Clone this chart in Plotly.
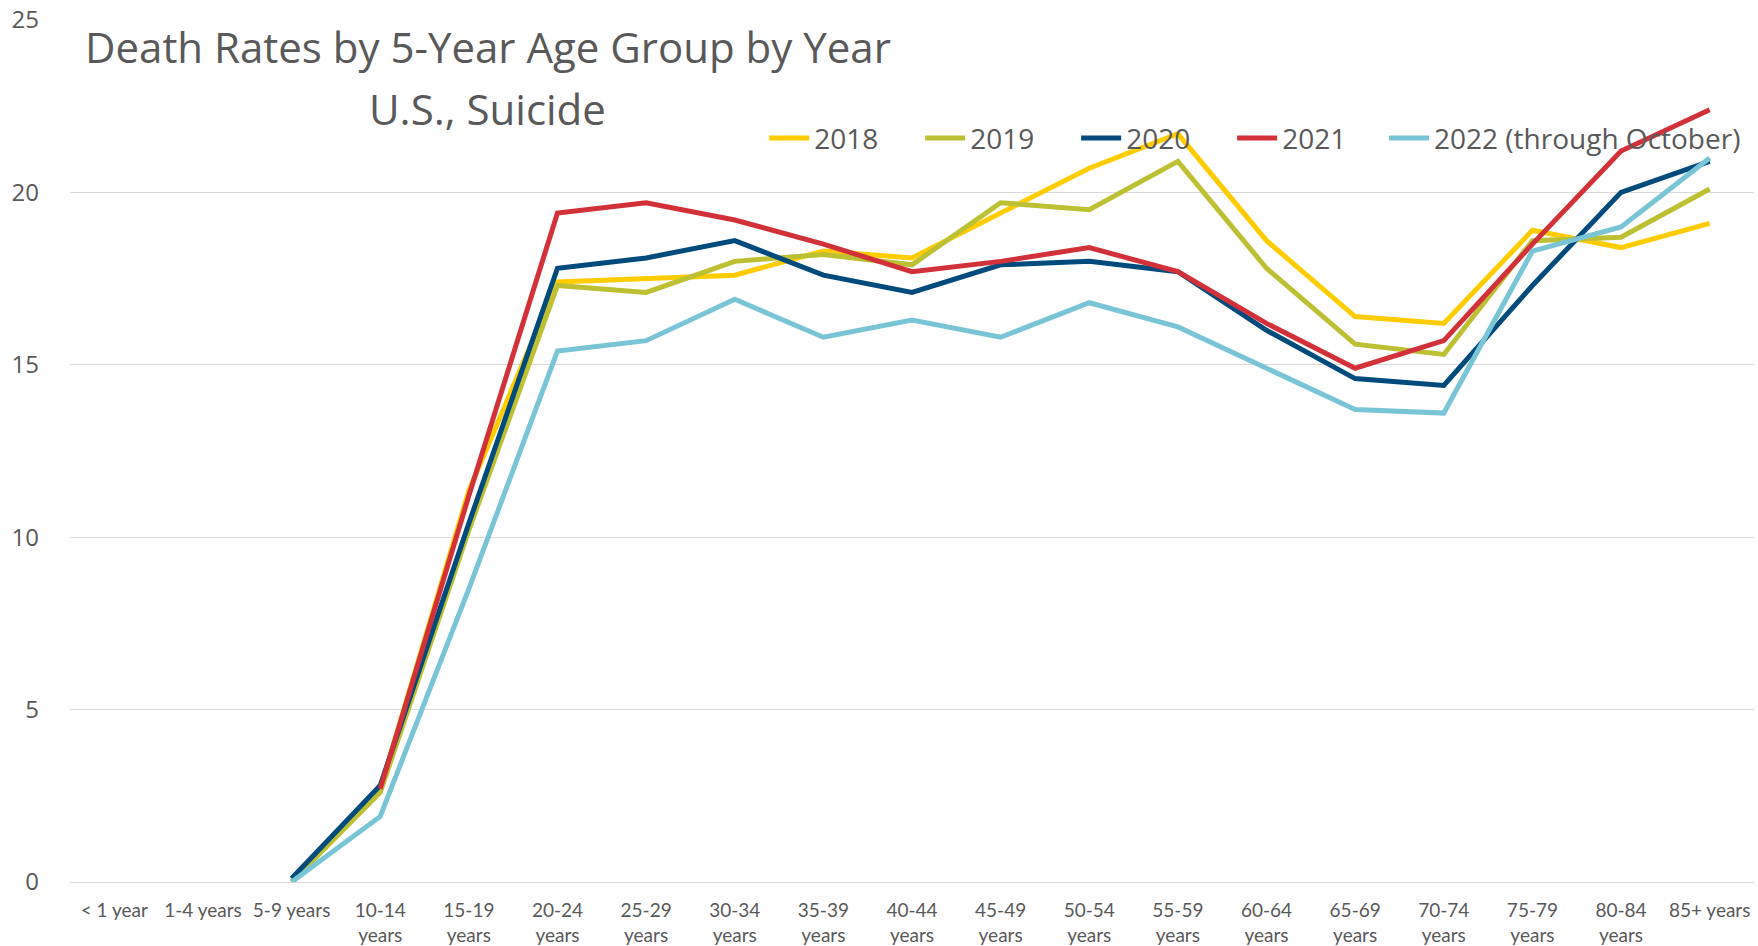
import plotly.graph_objects as go

# Age groups (x categories) and their tick labels
age_groups = ["< 1 year", "1-4 years", "5-9 years", "10-14 years", "15-19 years",
              "20-24 years", "25-29 years", "30-34 years", "35-39 years", "40-44 years",
              "45-49 years", "50-54 years", "55-59 years", "60-64 years", "65-69 years",
              "70-74 years", "75-79 years", "80-84 years", "85+ years"]
tick_labels = ["< 1 year", "1-4 years", "5-9 years", "10-14<br>years", "15-19<br>years",
               "20-24<br>years", "25-29<br>years", "30-34<br>years", "35-39<br>years",
               "40-44<br>years", "45-49<br>years", "50-54<br>years", "55-59<br>years",
               "60-64<br>years", "65-69<br>years", "70-74<br>years", "75-79<br>years",
               "80-84<br>years", "85+ years"]

# Suicide death rates per 100,000 by year
rates_2018 = [None, None, None, 2.7, 11.35, 17.4, 17.5, 17.6, 18.3, 18.1,
              19.4, 20.7, 21.7, 18.6, 16.4, 16.2, 18.9, 18.4, 19.1]
rates_2019 = [None, None, 0.0, 2.6, 10.2, 17.3, 17.1, 18.0, 18.2, 17.9,
              19.7, 19.5, 20.9, 17.8, 15.6, 15.3, 18.6, 18.7, 20.1]
rates_2020 = [None, None, 0.1, 2.8, 10.4, 17.8, 18.1, 18.6, 17.6, 17.1,
              17.9, 18.0, 17.7, 16.0, 14.6, 14.4, 17.3, 20.0, 20.9]
rates_2021 = [None, None, None, 2.7, 11.2, 19.4, 19.7, 19.2, 18.5, 17.7,
              18.0, 18.4, 17.7, 16.2, 14.9, 15.7, 18.5, 21.2, 22.4]
rates_2022 = [None, None, 0.0, 1.9, 8.5, 15.4, 15.7, 16.9, 15.8, 16.3,
              15.8, 16.8, 16.1, 14.9, 13.7, 13.6, 18.3, 19.0, 21.0]

series = [
    ("2018", rates_2018, "#FFCC00", "legend"),
    ("2019", rates_2019, "#BDC032", "legend"),
    ("2020", rates_2020, "#004B7C", "legend"),
    ("2021", rates_2021, "#D3313A", "legend"),
    ("2022 (through October)", rates_2022, "#79C5D6", "legend2"),
]

fig = go.Figure()
for name, vals, color, leg in series:
    fig.add_trace(go.Scatter(
        x=age_groups, y=vals, name=name, mode="lines", legend=leg,
        line=dict(color=color, width=5), connectgaps=False,
    ))

grey = "#595959"
title_font = dict(size=42, color=grey, family="Open Sans")
legend_font = dict(size=28, color=grey, family="Open Sans")
legend_y = 0.8628
fig.update_layout(
    width=1758, height=946,
    margin=dict(l=70, r=4, t=20, b=64),
    plot_bgcolor="white", paper_bgcolor="white",
    font=dict(family="Open Sans", color=grey),
    showlegend=True,
    legend=dict(orientation="h", x=0.4122, xanchor="left", y=legend_y, yanchor="middle",
                font=legend_font, bgcolor="rgba(0,0,0,0)", itemwidth=40,
                entrywidth=101, entrywidthmode="pixels"),
    legend2=dict(orientation="h", x=0.7803, xanchor="left", y=legend_y, yanchor="middle",
                 font=legend_font, bgcolor="rgba(0,0,0,0)", itemwidth=40),
    xaxis=dict(type="category", categoryorder="array", categoryarray=age_groups,
               tickmode="array", tickvals=age_groups, ticktext=tick_labels,
               range=[-0.5, 18.5], showgrid=False, showline=False, zeroline=False,
               ticks="", ticklabelstandoff=15, automargin=False,
               tickfont=dict(size=19, color=grey, family="Lato")),
    yaxis=dict(range=[0, 25], dtick=5, showgrid=True, gridcolor="#D9D9D9", gridwidth=1,
               zeroline=True, zerolinecolor="#D9D9D9", zerolinewidth=1, showline=False,
               ticks="", ticklabelstandoff=30, automargin=False,
               tickfont=dict(size=24, color=grey, family="Open Sans")),
    annotations=[
        dict(text="Death Rates by 5-Year Age Group by Year",
             xref="paper", yref="paper", x=0.248, y=(882 - 47) / 862,
             xanchor="center", yanchor="middle", showarrow=False, font=title_font),
        dict(text="U.S., Suicide",
             xref="paper", yref="paper", x=0.248, y=(882 - 108) / 862,
             xanchor="center", yanchor="middle", showarrow=False, font=title_font),
    ],
)

fig.write_html("out.html")
